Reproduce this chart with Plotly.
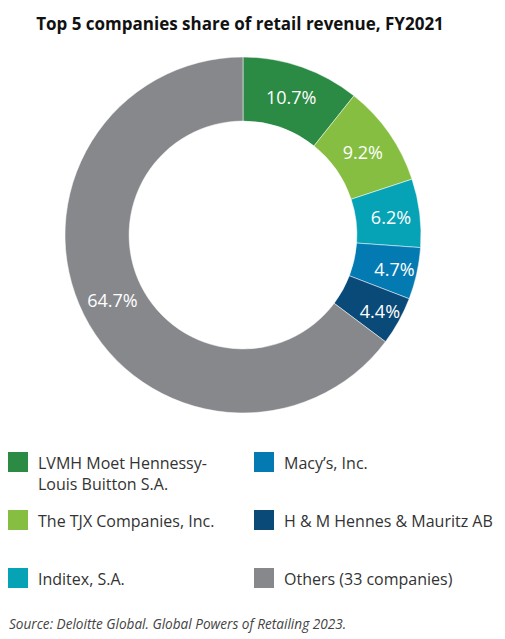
import plotly.graph_objects as go

# -------------------------
# data
# -------------------------
companies = [
    "LVMH Moet Hennessy-<br>Louis Buitton S.A.",
    "The TJX Companies, Inc.",
    "Inditex, S.A.",
    "Macy’s, Inc.",
    "H & M Hennes & Mauritz AB",
    "Others (33 companies)",
]
shares = [10.7, 9.2, 6.2, 4.7, 4.4, 64.7]
colors = ["#2B8A43", "#85BE41", "#05A3B5", "#047AB3", "#0A4A78", "#86888C"]

# legend layout: (column, row) for each company, same order as above
legend_slots = [(0, 0), (0, 1), (0, 2), (1, 0), (1, 1), (1, 2)]

# page is 505x639 but the browser body adds an 8px margin
OFF = 8
W, H = 505 - OFF, 639 - OFF
FONT = "Open Sans"


def px(x):
    return (x - OFF) / W


def py(y):
    return 1 - (y - OFF) / H


# -------------------------
# donut
# -------------------------
cx, cy, r = 243, 235, 178
fig = go.Figure(go.Pie(
    labels=companies,
    values=shares,
    sort=False,
    direction="clockwise",
    rotation=0,
    hole=0.64,
    marker=dict(colors=colors, line=dict(color="white", width=0.5)),
    texttemplate="%{value:.1f}%",
    textposition="inside",
    insidetextorientation="horizontal",
    textfont=dict(family=FONT, size=18, color="white"),
    hoverinfo="label+value",
    showlegend=False,
    domain=dict(x=[px(cx - r), px(cx + r)], y=[py(cy + r), py(cy - r)]),
))

# -------------------------
# legend (2 columns x 3 rows, big square swatches)
# -------------------------
col_x = [8, 254]
row_y = [462, 520, 578]
sw = 20
for name, col, (c, rr) in zip(companies, colors, legend_slots):
    x0, yc = col_x[c], row_y[rr]
    fig.add_shape(type="rect", xref="paper", yref="paper",
                  x0=px(x0), x1=px(x0 + sw),
                  y0=py(yc + sw / 2), y1=py(yc - sw / 2),
                  fillcolor=col, line=dict(width=0))
    fig.add_annotation(text=name, xref="paper", yref="paper",
                       x=px(x0 + sw + 8), y=py(yc - 12),
                       xanchor="left", yanchor="top", align="left",
                       showarrow=False,
                       font=dict(family=FONT, size=16, color="#333333"))

# source note
fig.add_annotation(text="<i>Source: Deloitte Global. Global Powers of Retailing 2023.</i>",
                   xref="paper", yref="paper", x=px(7), y=py(623),
                   xanchor="left", yanchor="middle", showarrow=False,
                   font=dict(family=FONT, size=13.6, color="#444444"))

fig.update_layout(
    title=dict(text="<b>Top 5 companies share of retail revenue, FY2021</b>",
               x=px(240), xanchor="center", y=py(24), yanchor="middle",
               font=dict(family=FONT, size=17, color="#111111")),
    uniformtext=dict(minsize=18, mode="show"),
    width=W, height=H,
    margin=dict(l=0, r=0, t=0, b=0),
    paper_bgcolor="white",
    plot_bgcolor="white",
)

fig.write_html("out.html")
